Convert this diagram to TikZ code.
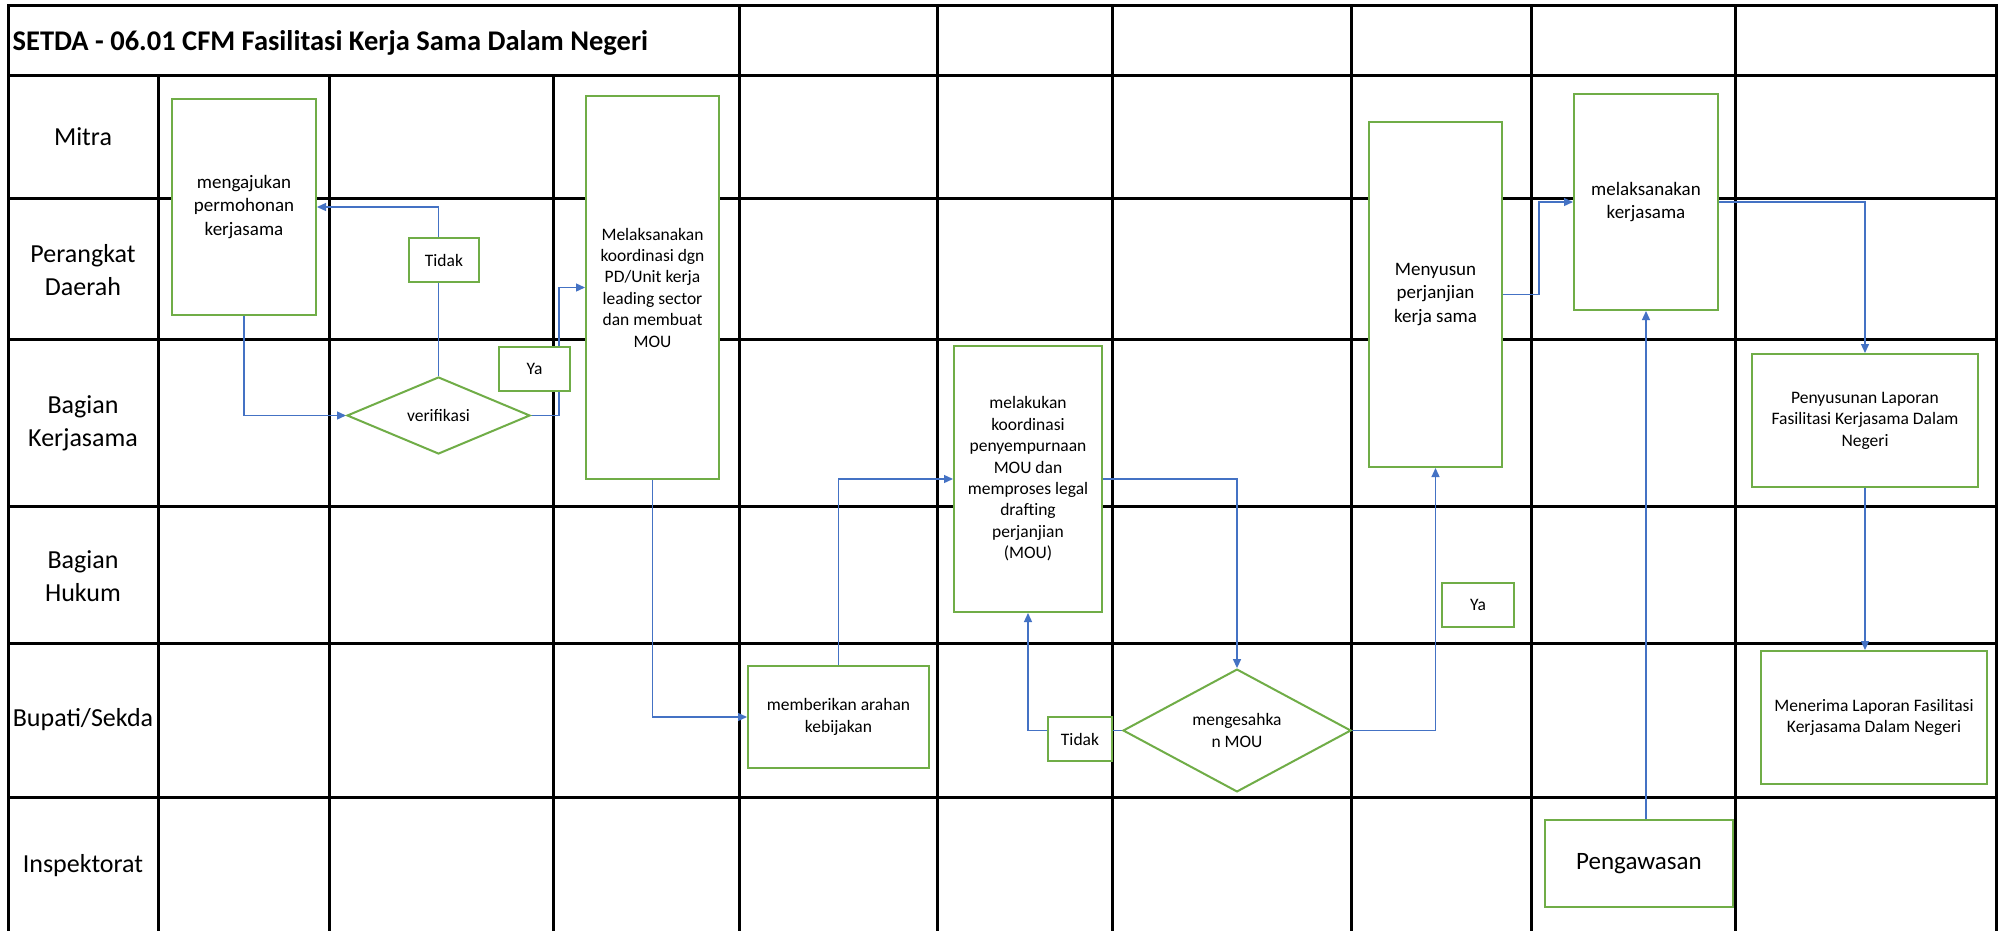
\documentclass[tikz,border=0pt]{standalone}
\usepackage{fontspec}
\setmainfont{Carlito}
\usetikzlibrary{shapes.geometric,arrows.meta}
\definecolor{boxgreen}{HTML}{70AD47}
\definecolor{connblue}{HTML}{4472C4}
\pgfdeclarelayer{gridlayer}
\pgfdeclarelayer{connlayer}
\pgfsetlayers{gridlayer,connlayer,main}
\tikzset{
  gridline/.style={draw=black,line width=3pt},
  lanelabel/.style={align=center,inner sep=0pt,font=\fontsize{26}{33}\selectfont},
  stepbox/.style={draw=boxgreen,line width=2pt,fill=white,inner sep=0pt,align=center,
    font=\fontsize{17.5}{21.4}\selectfont},
  bigtext/.style={font=\fontsize{19}{23.3}\selectfont},
  decbox/.style={stepbox,diamond},
  conn/.style={draw=connblue,line width=1.3pt,-{Triangle[length=9pt,width=8pt]}}
}
\begin{document}
\begin{tikzpicture}[x=1pt,y=-1pt]
\useasboundingbox (0,0) rectangle (1998,931);
\begin{pgfonlayer}{gridlayer}
  \fill[white] (0,0) rectangle (1998,931);
  \draw[gridline] (8,931) -- (8,6) -- (1996,6) -- (1996,931);
  \foreach \yy in {76,198,339,506,643,797} \draw[gridline] (8,\yy) -- (1996,\yy);
  \foreach \xx in {158,329,553} \draw[gridline] (\xx,76) -- (\xx,931);
  \foreach \xx in {739,937,1112,1351,1531,1735} \draw[gridline] (\xx,6) -- (\xx,931);
\end{pgfonlayer}

% title
\node[anchor=base west,inner sep=0pt,font=\fontsize{28.5}{34}\selectfont\bfseries] (title) at (12.5,51) {SETDA - 06.01 CFM Fasilitasi Kerja Sama Dalam Negeri};

% lane labels
\node[lanelabel] (lmitra) at (83,137) {Mitra};
\node[lanelabel] (lpd) at (83,270) {Perangkat\\Daerah};
\node[lanelabel] (lbk) at (83,423) {Bagian\\Kerjasama};
\node[lanelabel] (lbh) at (83,576) {Bagian\\Hukum};
\node[lanelabel] (lbs) at (83,720) {Bupati/Sekda};
\node[lanelabel] (linsp) at (83,866) {Inspektorat};

% process boxes
\node[stepbox,bigtext,minimum width=144pt,minimum height=216pt] (ajukan) at (244,207) {mengajukan\\permohonan\\kerjasama};
\node[decbox,minimum width=183pt,minimum height=77pt] (verif) at (438.5,415.5) {verifikasi};
\node[stepbox,minimum width=70pt,minimum height=44pt] (tidak1) at (444,260) {Tidak};
\node[stepbox,minimum width=71pt,minimum height=44pt] (ya1) at (534.5,369) {Ya};
\node[stepbox,minimum width=133pt,minimum height=383pt] (koord) at (652.5,287.5) {Melaksanakan\\koordinasi dgn\\PD/Unit kerja\\leading sector\\dan membuat\\MOU};
\node[stepbox,minimum width=181pt,minimum height=102pt] (arahan) at (838.5,717) {memberikan arahan\\kebijakan};
\node[stepbox,minimum width=148pt,minimum height=266pt] (legal) at (1028,479) {melakukan\\koordinasi\\penyempurnaan\\MOU dan\\memproses legal\\drafting\\perjanjian\\(MOU)};
\node[decbox,minimum width=228pt,minimum height=117pt] (sah) at (1237,730.5) {mengesahka\\n MOU};
\node[stepbox,minimum width=64pt,minimum height=44pt] (tidak2) at (1080,739) {Tidak};
\node[stepbox,bigtext,minimum width=133pt,minimum height=345pt] (susun) at (1435.5,294.5) {Menyusun\\perjanjian\\kerja sama};
\node[stepbox,minimum width=72pt,minimum height=44pt] (ya2) at (1478,605) {Ya};
\node[stepbox,bigtext,minimum width=144pt,minimum height=216pt] (laksana) at (1646,202) {melaksanakan\\kerjasama};
\node[stepbox,minimum width=188pt,minimum height=87pt,font=\fontsize{25}{30}\selectfont] (awas) at (1639,863.5) {Pengawasan};
\node[stepbox,minimum width=226pt,minimum height=133pt] (lapor) at (1865,420.5) {Penyusunan Laporan\\Fasilitasi Kerjasama Dalam\\Negeri};
\node[stepbox,minimum width=226pt,minimum height=133pt] (terima) at (1874,717.5) {Menerima Laporan Fasilitasi\\Kerjasama Dalam Negeri};

% connectors
\begin{pgfonlayer}{connlayer}
  \draw[conn] (ajukan.south) |- (verif.west);
  \draw[conn] (verif.north) |- (ajukan.east);
  \draw[conn] (verif.east) -- ++(28,0) |- (koord.west);
  \draw[conn] (koord.south) |- (arahan.west);
  \draw[conn] (arahan.north) |- (legal.west);
  \draw[conn] (legal.east) -| (sah.north);
  \draw[conn] (sah.west) -| (legal.south);
  \draw[conn] (sah.east) -| (susun.south);
  \draw[conn] (susun.east) -- ++(36,0) |- (laksana.west);
  \draw[conn] (laksana.south |- awas.north) -- (laksana.south);
  \draw[conn] (laksana.east) -| (lapor.north);
  \draw[conn] (lapor.south) -- (lapor.south |- terima.north);
\end{pgfonlayer}
\end{tikzpicture}
\end{document}
